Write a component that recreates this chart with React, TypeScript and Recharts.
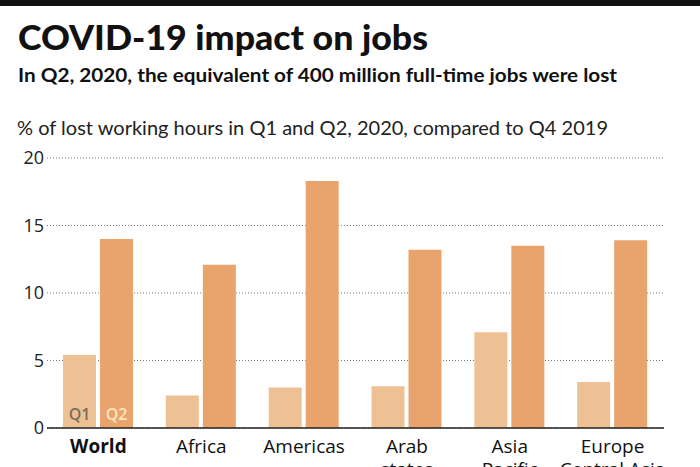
import React from "react";
import { BarChart, Bar, XAxis, YAxis, CartesianGrid, LabelList } from "recharts";

const categories = ["World", "Africa", "Americas", "Arab\nstates", "Asia\nPacific", "Europe\nCentral Asia"];
const q1Values = [5.4, 2.4, 3.0, 3.1, 7.1, 3.4];
const q2Values = [14.0, 12.1, 18.3, 13.2, 13.5, 13.9];
const yTicks = [0, 5, 10, 15, 20];

const data = categories.map((c, i) => ({ name: c, q1: q1Values[i], q2: q2Values[i] }));

const Q1_COLOR = "#EEC194";
const Q2_COLOR = "#E8A46C";

const XTick = (props: any) => {
  const { x, payload } = props;
  const lines = String(payload.value).split("\n");
  const bold = payload.value === "World";
  return (
    <g>
      {lines.map((l: string, i: number) => (
        <text
          key={i}
          x={x}
          y={453 + i * 23}
          textAnchor="middle"
          fontFamily="'Open Sans', sans-serif"
          fontSize={19}
          fontWeight={bold ? 700 : 400}
          fill="#111"
        >
          {l}
        </text>
      ))}
    </g>
  );
};

const makeSeriesLabel = (text: string, color: string) => (props: any) => {
  const { x, y, width, height, index } = props;
  if (index !== 0) return null;
  return (
    <text
      x={Number(x) + Number(width) / 2}
      y={Number(y) + Number(height) - 8}
      textAnchor="middle"
      fontFamily="'Open Sans', sans-serif"
      fontSize={16}
      fontWeight={600}
      fill={color}
    >
      {text}
    </text>
  );
};

export default function App() {
  return (
    <div style={{ position: "absolute", left: 0, top: 0, width: 700, height: 467, background: "#fff", overflow: "hidden" }}>
      <svg width={700} height={467} style={{ position: "absolute", left: 0, top: 0 }}>
        <rect x={0} y={0} width={700} height={6} fill="#111" />
        <text x={18} y={50} fontFamily="Lato, sans-serif" fontWeight={900} fontSize={35} fill="#111" textLength={410} lengthAdjust="spacingAndGlyphs">
          COVID-19 impact on jobs
        </text>
        <text x={18} y={82} fontFamily="Lato, sans-serif" fontWeight={700} fontSize={19} fill="#111" textLength={599} lengthAdjust="spacingAndGlyphs">
          In Q2, 2020, the equivalent of 400 million full-time jobs were lost
        </text>
        <text x={17} y={135} fontFamily="Lato, sans-serif" fontWeight={400} fontSize={20} fill="#222" textLength={591} lengthAdjust="spacingAndGlyphs">
          % of lost working hours in Q1 and Q2, 2020, compared to Q4 2019
        </text>
      </svg>
      <div style={{ position: "absolute", left: 0, top: 0 }}>
        <BarChart
          width={700}
          height={467}
          data={data}
          margin={{ top: 158, right: 36, bottom: 0, left: 0 }}
          barGap={4}
          barSize={33}
        >
          <CartesianGrid vertical={false} stroke="#7a7a7a" strokeDasharray="1 2" />
          <XAxis
            dataKey="name"
            tick={<XTick />}
            tickLine={false}
            axisLine={{ stroke: "#222", strokeWidth: 1.5 }}
            interval={0}
            height={39}
          />
          <YAxis
            width={47}
            domain={[0, 20]}
            ticks={yTicks}
            tickLine={false}
            tickSize={0}
            axisLine={false}
            tickMargin={3}
            tick={{ fontFamily: "'Open Sans', sans-serif", fontSize: 18, fill: "#222" }}
          />
          <Bar dataKey="q1" fill={Q1_COLOR} isAnimationActive={false}>
            <LabelList dataKey="q1" content={makeSeriesLabel("Q1", "#7f6e5e")} />
          </Bar>
          <Bar dataKey="q2" fill={Q2_COLOR} isAnimationActive={false}>
            <LabelList dataKey="q2" content={makeSeriesLabel("Q2", "#FBE5BF")} />
          </Bar>
        </BarChart>
      </div>
    </div>
  );
}
